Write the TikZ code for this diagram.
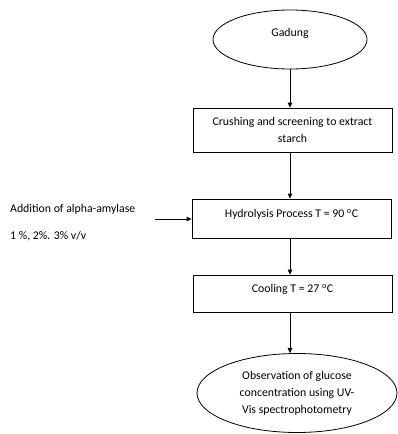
\documentclass[tikz,border=0pt]{standalone}
\usepackage{fontspec}
\setmainfont{Carlito}
\usetikzlibrary{shapes.geometric,arrows.meta}
\begin{document}
\begin{tikzpicture}[x=1pt,y=-1pt,font=\fontsize{11.8}{17}\selectfont,
  box/.style={draw,line width=0.8pt,minimum width=199pt,inner sep=0pt},
  oval/.style={draw,ellipse,line width=0.8pt,inner sep=0pt,align=center},
  arr/.style={line width=0.8pt,-{Triangle[width=4.5pt,length=5pt]}},
  plain/.style={inner sep=0pt,anchor=west}]
\useasboundingbox[fill=white] (0,0) rectangle (398,434);
\node[oval,minimum width=154pt,minimum height=59pt,label={[yshift=6pt]center:Gadung}] (g) at (290,39.5) {};
\node[box,minimum height=44pt,align=center] (c) at (292.5,130) {Crushing and screening to extract\\starch};
\node[box,minimum height=39pt,label={[anchor=north,yshift=-7pt]north:Hydrolysis Process T = 90 \textsuperscript{o}C}] (h) at (291.5,218.5) {};
\node[box,minimum height=37pt,label={[anchor=north,yshift=-6pt]north:Cooling T = 27 \textsuperscript{o}C}] (k) at (292.5,293.5) {};
\node[oval,minimum width=200pt,minimum height=79pt] (o) at (297,393) {Observation of glucose\\concentration using UV-\\Vis spectrophotometry};
\node[plain] (a1) at (10,209) {Addition of alpha-amylase};
\node[plain] (a2) at (10,236) {1 \%, 2\%. 3\% v/v};
\coordinate (s) at (155,219);
\draw[arr] (g.south) -- (g.south |- c.north);
\draw[arr] (g.south |- c.south) -- (g.south |- h.north);
\draw[arr] (g.south |- h.south) -- (g.south |- k.north);
\draw[arr] (g.south |- k.south) -- (g.south |- o.north);
\draw[arr] (s) -- (s -| h.west);
\end{tikzpicture}
\end{document}
